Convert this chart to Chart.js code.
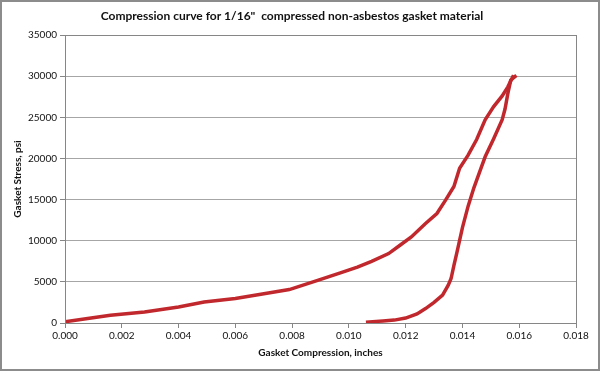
<!DOCTYPE html>
<html>
<head>
<meta charset="utf-8">
<script src="https://cdn.jsdelivr.net/npm/chart.js@4.4.1/dist/chart.umd.min.js"></script>
<style>
  html, body { margin: 0; padding: 0; background: #fff; }
  #wrap { width: 600px; height: 371px; }
</style>
</head>
<body>
<div id="wrap"><canvas id="gasketChart" width="600" height="371"></canvas></div>
<script>
// Loading branch (compression going up)
const loadX = [0, 0.0008, 0.0016, 0.0028, 0.0040, 0.0049, 0.0060, 0.0069, 0.0079, 0.0089,
    0.0097, 0.0103, 0.0108, 0.0114, 0.0118, 0.0122, 0.0127, 0.0131, 0.0134, 0.0137,
    0.0139, 0.0142, 0.0145, 0.0148, 0.0151, 0.0154, 0.0156, 0.0158];
const loadY = [150, 550, 940, 1350, 1950, 2550, 2970, 3490, 4060, 5190,
    6100, 6800, 7500, 8440, 9450, 10460, 12090, 13310, 14900, 16600,
    18800, 20400, 22300, 24700, 26300, 27600, 28700, 30100];

// Unloading branch (back down to zero)
const unloadX = [0.0159, 0.0157, 0.0156, 0.0155, 0.0154, 0.0151, 0.0148, 0.0146, 0.0144, 0.0142,
    0.0140, 0.0138, 0.0137, 0.0136, 0.0135, 0.0133, 0.0130, 0.0127, 0.0124, 0.0120,
    0.0116, 0.0112, 0.0106];
const unloadY = [30100, 29500, 27900, 26000, 24700, 22400, 20200, 18300, 16400, 14200,
    11600, 8500, 7000, 5400, 4600, 3400, 2500, 1750, 1100, 600,
    350, 250, 100];

const xTicks = [0, 0.002, 0.004, 0.006, 0.008, 0.010, 0.012, 0.014, 0.016, 0.018];
const yTicks = [0, 5000, 10000, 15000, 20000, 25000, 30000, 35000];

const lineColor = "#c0282d";
const fontFamily = "Lato, 'Open Sans', sans-serif";

// plot frame + outer chart border
const framePlugin = {
    id: "frame",
    afterDraw(chart) {
        const { ctx, chartArea: a } = chart;
        ctx.save();
        ctx.strokeStyle = "#868686";
        ctx.lineWidth = 1;
        ctx.strokeRect(Math.round(a.left) + 0.5, Math.round(a.top) + 0.5,
            Math.round(a.right - a.left), Math.round(a.bottom - a.top));
        ctx.strokeStyle = "#8c8c8c";
        ctx.lineWidth = 2;
        ctx.strokeRect(1, 1, chart.width - 2, chart.height - 2);
        ctx.restore();
    }
};

const ctx = document.getElementById("gasketChart");

new Chart(ctx, {
    type: "scatter",
    data: {
        datasets: [{
            label: "Loading",
            data: loadX.map((x, i) => ({ x: x, y: loadY[i] })),
            showLine: true,
            borderColor: lineColor,
            backgroundColor: lineColor,
            borderWidth: 3.5,
            pointRadius: 0
        }, {
            label: "Unloading",
            data: unloadX.map((x, i) => ({ x: x, y: unloadY[i] })),
            showLine: true,
            borderColor: lineColor,
            backgroundColor: lineColor,
            borderWidth: 3.5,
            pointRadius: 0
        }]
    },
    options: {
        responsive: false,
        animation: false,
        layout: {
            padding: { left: 8, right: 24, top: 0, bottom: 12 }
        },
        plugins: {
            legend: { display: false },
            tooltip: { enabled: false },
            title: {
                display: true,
                text: "Compression curve for 1/16\"  compressed non-asbestos gasket material",
                color: "#111",
                font: { family: fontFamily, size: 12, weight: "bold" },
                padding: { top: 9, bottom: 11.6 }
            }
        },
        scales: {
            x: {
                type: "linear",
                min: 0,
                max: 0.018,
                afterBuildTicks(scale) {
                    scale.ticks = xTicks.map(v => ({ value: v }));
                },
                afterFit(scale) { scale.height = 36; },
                ticks: {
                    color: "#111",
                    font: { family: fontFamily, size: 10 },
                    padding: 2,
                    maxRotation: 0,
                    callback: v => Number(v).toFixed(3)
                },
                grid: {
                    drawOnChartArea: false,
                    drawTicks: true,
                    tickLength: 5,
                    color: "#868686"
                },
                border: { color: "#868686" },
                title: {
                    display: true,
                    text: "Gasket Compression, inches",
                    color: "#111",
                    font: { family: fontFamily, size: 10, weight: "bold" },
                    padding: { top: 4, bottom: 0 }
                }
            },
            y: {
                min: 0,
                max: 35000,
                afterBuildTicks(scale) {
                    scale.ticks = yTicks.map(v => ({ value: v }));
                },
                afterFit(scale) { scale.width = 57; },
                ticks: {
                    color: "#111",
                    font: { family: fontFamily, size: 10 },
                    padding: 3,
                    callback: v => String(v)
                },
                grid: {
                    color: "#a6a6a6",
                    tickLength: 5,
                    tickColor: "#868686"
                },
                border: { color: "#868686" },
                title: {
                    display: true,
                    text: "Gasket Stress, psi",
                    color: "#111",
                    font: { family: fontFamily, size: 10, weight: "bold" },
                    padding: { top: 4, bottom: 4 }
                }
            }
        }
    },
    plugins: [framePlugin]
});
</script>
</body>
</html>
